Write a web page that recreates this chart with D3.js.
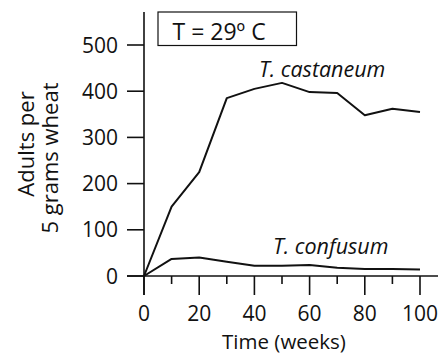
<!DOCTYPE html>
<html><head><meta charset="utf-8">
<script src="https://cdn.jsdelivr.net/npm/d3@7"></script>
<style>body{margin:0;background:#fff}svg text{font-family:"Open Sans",sans-serif;fill:#111}</style>
</head><body><svg id="c" width="444" height="356"></svg>
<script>
const weeks = [0,10,20,30,40,50,60,70,80,90,100];
const castaneum = [0,150,225,385,405,418,398,396,348,362,355];
const confusum = [0,37,40,31,22,22,24,18,15,15,14];
const yTicks = [0,100,200,300,400,500];
const xTicks = [0,20,40,60,80,100];
const xMinor = [10,30,50,70,90];
const seriesNames = ["T. castaneum","T. confusum"];
const tempLabel = "T = 29º C";

const svg = d3.select("#c");
const x = d3.scaleLinear().domain([0,100]).range([144,420]);
const y = d3.scaleLinear().domain([0,500]).range([276,45]);
const fs = 21;

// axes lines
svg.append("line").attr("x1",127).attr("x2",438).attr("y1",y(0)).attr("y2",y(0)).attr("stroke","#111").attr("stroke-width",1.6);
svg.append("line").attr("x1",x(0)).attr("x2",x(0)).attr("y1",12).attr("y2",295).attr("stroke","#111").attr("stroke-width",1.6);

// y ticks
svg.selectAll(".yt").data(yTicks).join("line").attr("x1",127).attr("x2",144).attr("y1",d=>y(d)).attr("y2",d=>y(d)).attr("stroke","#111").attr("stroke-width",1.6);
svg.selectAll(".yl").data(yTicks).join("text").attr("x",118).attr("y",d=>y(d)).attr("dy","0.36em").attr("text-anchor","end").attr("font-size",fs).text(d=>d);

// x ticks
svg.selectAll(".xt").data(xTicks).join("line").attr("x1",d=>x(d)).attr("x2",d=>x(d)).attr("y1",y(0)).attr("y2",295).attr("stroke","#111").attr("stroke-width",1.6);
svg.selectAll(".xm").data(xMinor).join("line").attr("x1",d=>x(d)).attr("x2",d=>x(d)).attr("y1",y(0)).attr("y2",284).attr("stroke","#111").attr("stroke-width",1.6);
svg.selectAll(".xl").data(xTicks).join("text").attr("x",d=>x(d)).attr("y",321).attr("text-anchor","middle").attr("font-size",fs).text(d=>d);

// axis titles
svg.append("text").attr("x",284).attr("y",349).attr("text-anchor","middle").attr("font-size",20.5).text("Time (weeks)");
svg.append("text").attr("transform","translate(34,144) rotate(-90)").attr("text-anchor","middle").attr("font-size",22).text("Adults per");
svg.append("text").attr("transform","translate(58,158) rotate(-90)").attr("text-anchor","middle").attr("font-size",22).text("5 grams wheat");

// lines
const line = d3.line().x((d,i)=>x(weeks[i])).y(d=>y(d));
[castaneum, confusum].forEach(s=>{
  svg.append("path").attr("d",line(s)).attr("fill","none").attr("stroke","#111").attr("stroke-width",2).attr("stroke-linejoin","round");
});

// series labels
svg.append("text").attr("x",259).attr("y",77).attr("font-size",21.5).attr("font-style","italic").text(seriesNames[0]);
svg.append("text").attr("x",273).attr("y",254).attr("font-size",21.5).attr("font-style","italic").text(seriesNames[1]);

// temp box
svg.append("rect").attr("x",158).attr("y",12).attr("width",138.5).attr("height",33.5).attr("fill","#fff").attr("stroke","#111").attr("stroke-width",1.2);
svg.append("text").attr("x",172.5).attr("y",40).attr("font-size",23).text(tempLabel);
</script></body></html>
